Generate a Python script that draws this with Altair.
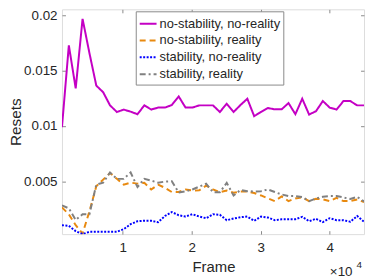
import altair as alt
import pandas as pd

FONT = "Liberation Sans"

series_names = [
    "no-stability, no-reality",
    "no-stability, reality",
    "stability, no-reality",
    "stability, reality",
]
colors = ["#c400c4", "#e8890f", "#0000ff", "#808080"]
dashes = [[1, 0], [6, 4], [2, 1.5], [6, 3, 2, 3]]

frames = [1200 + i * 995 for i in range(45)]

no_stab_no_real = [
    0.0099, 0.0173, 0.0134, 0.0197, 0.0166, 0.01366, 0.01306, 0.01187, 0.01127, 0.01149,
    0.0113, 0.01107, 0.01187, 0.01149, 0.01167, 0.01167, 0.0119, 0.01268, 0.01167, 0.01167,
    0.01187, 0.01187, 0.01187, 0.01127, 0.01202, 0.01127, 0.0119, 0.01247, 0.01089, 0.01128,
    0.01163, 0.01151, 0.01151, 0.01208, 0.01107, 0.01247, 0.01104, 0.01134, 0.01226, 0.01167,
    0.01149, 0.01226, 0.01226, 0.01187, 0.01187,
]
no_stab_real = [
    0.00264, 0.00202, 0.00103, 0.00027, 0.00228, 0.00455, 0.00515, 0.00575, 0.00522, 0.0047,
    0.00488, 0.00479, 0.00486, 0.00426, 0.0047, 0.00441, 0.00403, 0.00403, 0.00426, 0.00417,
    0.00419, 0.00461, 0.00426, 0.00401, 0.00417, 0.00396, 0.00408, 0.00408, 0.00394, 0.00372,
    0.00345, 0.00321, 0.00363, 0.00321, 0.00345, 0.00354, 0.00321, 0.00342, 0.00336, 0.00321,
    0.00351, 0.00321, 0.00321, 0.00336, 0.00312,
]
stab_no_real = [
    0.00103, 0.00097, 0.00049, 0.00022, 0.00043, 0.00043, 0.00043, 0.00043, 0.00043, 0.00067,
    0.00112, 0.00139, 0.00143, 0.00143, 0.0013, 0.00186, 0.00222, 0.00193, 0.00181, 0.00202,
    0.00181, 0.00166, 0.00202, 0.00197, 0.00148, 0.00163, 0.00175, 0.00181, 0.00142, 0.00181,
    0.00172, 0.00148, 0.00157, 0.00157, 0.00157, 0.00179, 0.00139, 0.00161, 0.0013, 0.00166,
    0.00148, 0.00148, 0.00134, 0.00186, 0.00133,
]
stab_real = [
    0.00282, 0.00255, 0.0015, 0.00202, 0.00202, 0.0047, 0.00488, 0.0058, 0.00522, 0.00522,
    0.0058, 0.00448, 0.00522, 0.00506, 0.00488, 0.00497, 0.005, 0.00399, 0.00408, 0.00426,
    0.00452, 0.00479, 0.00401, 0.00401, 0.00486, 0.00372, 0.00421, 0.0041, 0.00408, 0.0041,
    0.00426, 0.00403, 0.00381, 0.00366, 0.00366, 0.00358, 0.00321, 0.00345, 0.0036, 0.00366,
    0.00366, 0.00354, 0.0034, 0.0036, 0.00318,
]

x_ticks = [10000, 20000, 30000, 40000]
y_ticks = [0.005, 0.01, 0.015, 0.02]

rows = []
for name, vals in zip(series_names, [no_stab_no_real, no_stab_real, stab_no_real, stab_real]):
    for f, v in zip(frames, vals):
        rows.append({"frame": f, "resets": v, "series": name})
df = pd.DataFrame(rows)

W, H = 305, 227
xscale = alt.Scale(domain=[1200, 44980], nice=False, zero=False)
yscale = alt.Scale(domain=[0.00022, 0.02056], nice=False, zero=False)

legend = alt.Legend(
    title=None, orient="none", legendX=74.5, legendY=2,
    symbolType="stroke", symbolSize=289, symbolStrokeWidth=2,
    labelFont=FONT, labelFontSize=13, labelColor="#262626", labelOffset=2,
    padding=3, strokeColor="#8a8a8a", fillColor="white", rowPadding=0,
)

lines = alt.Chart(df).mark_line(strokeWidth=2, clip=True).encode(
    x=alt.X("frame:Q", scale=xscale, axis=alt.Axis(
        orient="bottom", values=x_ticks, labelExpr="datum.value / 10000",
        ticks=False, tickSize=0, domain=False, grid=False,
        labelFont=FONT, labelFontSize=13.5, labelColor="#262626", labelPadding=7,
        title="Frame", titleFont=FONT, titleFontSize=15, titleFontWeight="normal",
        titleColor="#262626", titleX=153, titleY=38, titleBaseline="alphabetic")),
    y=alt.Y("resets:Q", scale=yscale, axis=alt.Axis(
        orient="left", values=y_ticks, format="~g",
        ticks=False, tickSize=0, domain=False, grid=False,
        labelFont=FONT, labelFontSize=13.5, labelColor="#262626", labelPadding=5,
        title="Resets", titleFont=FONT, titleFontSize=15.5, titleFontWeight="normal",
        titleColor="#262626", titleX=-42, titleY=113.5, titleBaseline="alphabetic")),
    color=alt.Color("series:N", scale=alt.Scale(domain=series_names, range=colors), legend=legend),
    strokeDash=alt.StrokeDash("series:N", scale=alt.Scale(domain=series_names, range=dashes), legend=legend),
)

ticks_low = alt.Chart(df).mark_line(opacity=0).encode(
    x=alt.X("frame:Q", scale=xscale, axis=alt.Axis(
        orient="top", offset=-H, values=x_ticks, labels=False, domain=False, grid=False,
        ticks=True, tickSize=3.5, tickColor="#8a8a8a", title=None)),
    y=alt.Y("resets:Q", scale=yscale, axis=alt.Axis(
        orient="right", offset=-W, values=y_ticks, labels=False, domain=False, grid=False,
        ticks=True, tickSize=3.5, tickColor="#8a8a8a", title=None)),
    detail="series:N",
)

ticks_high = alt.Chart(df).mark_line(opacity=0).encode(
    x=alt.X("frame:Q", scale=xscale, axis=alt.Axis(
        orient="bottom", offset=-H, values=x_ticks, labels=False, domain=False, grid=False,
        ticks=True, tickSize=3.5, tickColor="#8a8a8a", title=None)),
    y=alt.Y("resets:Q", scale=yscale, axis=alt.Axis(
        orient="left", offset=-W, values=y_ticks, labels=False, domain=False, grid=False,
        ticks=True, tickSize=3.5, tickColor="#8a8a8a", title=None)),
    detail="series:N",
)

mult = alt.Chart(pd.DataFrame({"t": ["×10"]})).mark_text(
    align="left", baseline="alphabetic", font=FONT, fontSize=13.5, color="#262626"
).encode(x=alt.value(270.5), y=alt.value(269), text="t:N")

expo = alt.Chart(pd.DataFrame({"t": ["4"]})).mark_text(
    align="left", baseline="alphabetic", font=FONT, fontSize=10, color="#262626"
).encode(x=alt.value(297.5), y=alt.value(261), text="t:N")

chart = alt.layer(ticks_low, ticks_high, lines, mult, expo).resolve_axis(
    x="independent", y="independent"
).properties(
    width=W, height=H,
    autosize=alt.AutoSizeParams(type="none"),
    padding={"left": 54.5, "top": 0, "right": 2, "bottom": 47},
).configure_view(stroke="#8a8a8a", strokeWidth=1).configure(background="white")

chart.save("out.html", embed_options={"renderer": "svg", "actions": False})
